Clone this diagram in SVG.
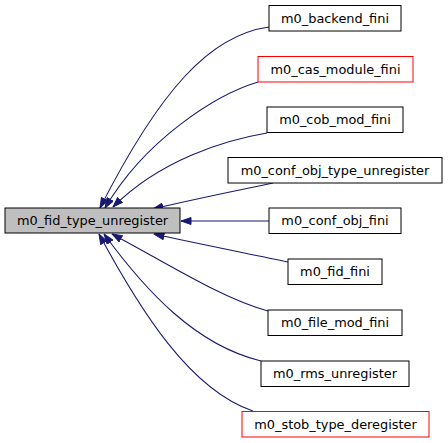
<svg xmlns="http://www.w3.org/2000/svg" width="448" height="443" viewBox="0 0 448 443">
<style>
.n rect{fill:#ffffff;stroke:#000000;stroke-width:1}
.n.red rect{stroke:#ff0000}
.n.main rect{fill:#bfbfbf}
.n text{font-family:"DejaVu Sans","Liberation Sans",sans-serif;font-size:12.9px;text-anchor:middle;fill:#000000}
.e path{fill:none;stroke:#191970;stroke-width:1.1;marker-end:url(#ah)}
</style>
<defs>
<marker id="ah" markerUnits="userSpaceOnUse" markerWidth="11" markerHeight="8" viewBox="0 0 11 8" refX="10.5" refY="4" orient="auto">
<path d="M0.5,0.5 L10.5,4 L0.5,7.5 z" fill="#191970" stroke="#191970" stroke-width="1"/>
</marker>
</defs>
<rect width="448" height="443" fill="#ffffff"/>
<g id="edges" class="e">
<path d="M269,27 C210,35 160,90 100,208"/>
<path d="M258,82 C215,95 145,140 105,208"/>
<path d="M267,133 C225,140 160,160 113,207"/>
<path d="M273,183 C240,190 190,200 153,209"/>
<path d="M269,221 L181,221"/>
<path d="M288,262 C250,254 190,242 154,234"/>
<path d="M268,311 C225,300 170,265 112,234"/>
<path d="M261,361 C195,345 145,290 104,234"/>
<path d="M253,411 C190,390 140,310 99,234"/>
</g>
<g id="m0_fid_type_unregister" class="n main"><rect x="5" y="208" width="175" height="25"/><text x="92.5" y="225">m0_fid_type_unregister</text></g>
<g id="m0_backend_fini" class="n"><rect x="269" y="5.5" width="132" height="25.5"/><text x="335" y="22.5">m0_backend_fini</text></g>
<g id="m0_cas_module_fini" class="n red"><rect x="258" y="56.5" width="155" height="25.5"/><text x="335.5" y="73.5">m0_cas_module_fini</text></g>
<g id="m0_cob_mod_fini" class="n"><rect x="267" y="107" width="136" height="25.5"/><text x="335" y="124">m0_cob_mod_fini</text></g>
<g id="m0_conf_obj_type_unregister" class="n"><rect x="228" y="157.5" width="214" height="25.5"/><text x="335" y="174.5">m0_conf_obj_type_unregister</text></g>
<g id="m0_conf_obj_fini" class="n"><rect x="269" y="208" width="132" height="25.5"/><text x="335" y="225">m0_conf_obj_fini</text></g>
<g id="m0_fid_fini" class="n"><rect x="288" y="259" width="94" height="25.5"/><text x="335" y="276">m0_fid_fini</text></g>
<g id="m0_file_mod_fini" class="n"><rect x="268" y="310" width="134" height="25.5"/><text x="335" y="327">m0_file_mod_fini</text></g>
<g id="m0_rms_unregister" class="n"><rect x="261" y="361" width="148" height="25.5"/><text x="335" y="378">m0_rms_unregister</text></g>
<g id="m0_stob_type_deregister" class="n red"><rect x="242" y="411.5" width="187" height="25.5"/><text x="335.5" y="428.5">m0_stob_type_deregister</text></g>
</svg>
